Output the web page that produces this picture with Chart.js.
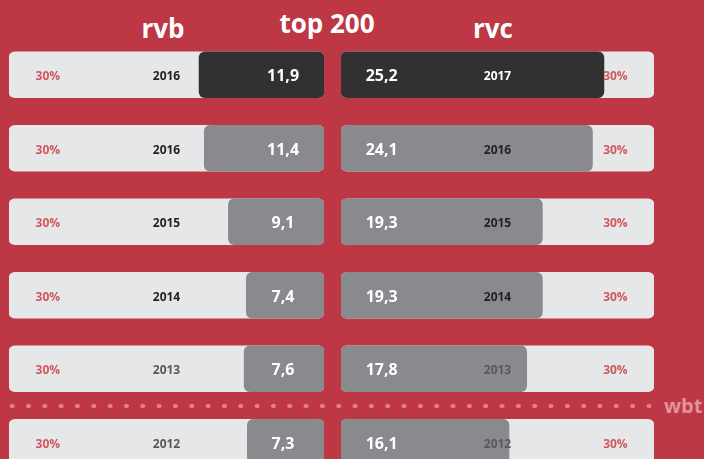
<!DOCTYPE html>
<html>
<head>
<meta charset="utf-8">
<script src="https://cdn.jsdelivr.net/npm/chart.js@4"></script>
<style>
  html, body { margin: 0; padding: 0; }
  body {
    width: 704px; height: 459px; overflow: hidden; position: relative;
    background: #bd3744; font-family: "Open Sans", sans-serif;
  }
  .titre {
    position: absolute; color: #fff; font-weight: 700; font-size: 26px;
    line-height: 26px; white-space: nowrap; transform: translateX(-50%);
  }
  #gauche { position: absolute; left: 0; top: 0; }
  #droite { position: absolute; left: 341px; top: 0; }
  #points {
    position: absolute; left: 4px; top: 403px; width: 653px; height: 6px;
    background-image: radial-gradient(circle, #de8287 2.1px, transparent 2.6px);
    background-size: 16.33px 6px;
  }
  #wbt {
    position: absolute; left: 664px; top: 396px; color: #df9499;
    font-weight: 700; font-size: 20px; line-height: 20px;
  }
</style>
</head>
<body>
<div class="titre" style="left:163px; top:15px;">rvb</div>
<div class="titre" style="left:327px; top:10px;">top 200</div>
<div class="titre" style="left:493px; top:15px;">rvc</div>
<div id="points"></div>
<div id="wbt">wbt</div>
<canvas id="gauche" width="324" height="480"></canvas>
<canvas id="droite" width="313" height="480"></canvas>
<script>
// données
const rangs = ['1', '2', '3', '4', '5', '6'];
const anneesRvb = ['2016', '2016', '2015', '2014', '2013', '2012'];
const valeursRvb = [11.9, 11.4, 9.1, 7.4, 7.6, 7.3];
const anneesRvc = ['2017', '2016', '2015', '2014', '2013', '2012'];
const valeursRvc = [25.2, 24.1, 19.3, 19.3, 17.8, 16.1];
const maxEchelle = 30;
const etiquetteMax = '30%';

const couleursBarres = ['#323031', '#898a8d', '#898a8d', '#898a8d', '#898a8d', '#898a8d'];
const couleursAnneesRvb = ['#231f20', '#231f20', '#231f20', '#231f20', '#58595b', '#58595b'];
const couleursAnneesRvc = ['#ffffff', '#231f20', '#231f20', '#231f20', '#58595b', '#58595b'];

const formater = v => v.toFixed(1).replace('.', ',');

// plugin pour écrire les textes dans chaque ligne
const pluginTextes = {
  id: 'textes',
  afterDatasetsDraw(chart, args, opts) {
    const ctx = chart.ctx;
    const x = chart.scales.x, y = chart.scales.y;
    ctx.save();
    ctx.textAlign = 'center';
    ctx.textBaseline = 'middle';
    rangs.forEach((r, i) => {
      const py = y.getPixelForValue(i) + 2;
      ctx.font = 'bold 12px "Open Sans"';
      ctx.fillStyle = '#d0585d';
      ctx.fillText(etiquetteMax, x.getPixelForValue(26.3), py);
      ctx.fillStyle = opts.couleursAnnees[i];
      ctx.fillText(opts.annees[i], x.getPixelForValue(15), py);
      ctx.font = 'bold 16px "Open Sans"';
      ctx.fillStyle = '#ffffff';
      ctx.fillText(formater(opts.valeurs[i]), x.getPixelForValue(3.9), py);
    });
    ctx.restore();
  }
};

const creerGraphique = (id, valeurs, annees, couleursAnnees, inverse, padding) => {
  new Chart(document.getElementById(id), {
    type: 'bar',
    data: {
      labels: rangs,
      datasets: [{
        data: valeurs,
        backgroundColor: couleursBarres,
        grouped: false,
        barThickness: 46,
        borderRadius: 6,
        borderSkipped: false
      }, {
        data: rangs.map(() => maxEchelle),
        backgroundColor: '#e6e7e8',
        grouped: false,
        barThickness: 46,
        borderRadius: 6,
        borderSkipped: false
      }]
    },
    options: {
      indexAxis: 'y',
      responsive: false,
      animation: false,
      events: [],
      layout: { padding: padding },
      scales: {
        x: { display: false, min: 0, max: maxEchelle, reverse: inverse },
        y: { display: false }
      },
      plugins: {
        legend: { display: false },
        tooltip: { enabled: false },
        textes: { valeurs: valeurs, annees: annees, couleursAnnees: couleursAnnees }
      }
    },
    plugins: [pluginTextes]
  });
};

creerGraphique('gauche', valeursRvb, anneesRvb, couleursAnneesRvb, true, { left: 9, right: 0, top: 38, bottom: 1 });
creerGraphique('droite', valeursRvc, anneesRvc, couleursAnneesRvc, false, { left: 0, right: 0, top: 38, bottom: 1 });
</script>
</body>
</html>
